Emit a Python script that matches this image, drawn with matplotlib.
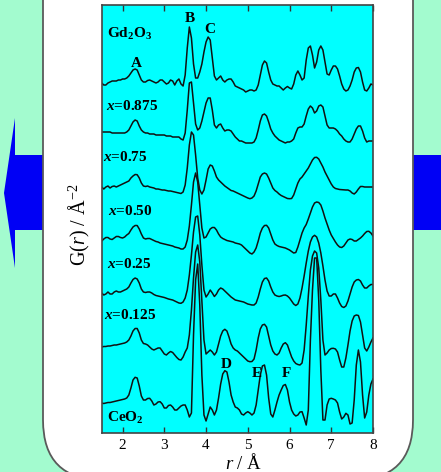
import matplotlib
matplotlib.use("Agg")
import matplotlib.pyplot as plt
import numpy as np
from matplotlib.patches import FancyBboxPatch, Polygon, Rectangle

plt.rcParams["font.family"] = ["Liberation Serif", "DejaVu Serif"]
plt.rcParams["mathtext.fontset"] = "custom"
plt.rcParams["mathtext.rm"] = "Liberation Serif"
plt.rcParams["mathtext.it"] = "Liberation Serif:italic"
plt.rcParams["mathtext.bf"] = "Liberation Serif:bold"
plt.rcParams["mathtext.sf"] = "Liberation Serif:bold:italic"

# r grid (Angstrom), 0.05 step
R = np.linspace(1.5, 8.0, 131)

# G(r), arbitrary units, one row per 0.5 A
G_GD2O3 = [
    2, 0, 0, 2, 3, 4, 4, 4, 5, 5,
    6, 6, 7, 9, 12, 15, 16, 15, 10, 5,
    3, 3, 4.5, 5, 4, 3, 2, 3, 5, 5,
    3, 1, 2, 5, 4, 0, 4, 6, 1, -1,
    10, 37, 58, 47, 21, 7, 7, 13, 21, 33,
    43, 48, 45, 27, 9, 5, 7, 9, 5, 3,
    5, 6, 6, 3, -1, -2, -3, -4, -5, -7,
    -6, -5, -5, -6, -5, 0, 10, 20, 24, 22,
    13, 5, 1, 0, -1, -1, -3, -5, -3, -1.5,
    -3, -4, 1, 10, 14, 10, 5, 7, 25, 37,
    39, 30, 17, 23, 35, 39, 35, 23, 11, 10,
    15, 19, 19, 16, 9, 1, -4, -6, -5, -1,
    5, 13, 17, 17.5, 13, 3, -5, -6, -3, 1,
    0,
]
G_0875 = [
    8, 8, 8, 8, 8, 7, 7, 7, 7, 7,
    7, 7, 8, 10, 14, 18, 20, 19, 14, 10,
    8, 7, 7, 6, 6, 6, 5, 5, 5, 5,
    5, 4, 4, 4, 3, 3, 3, 3, 1, 0,
    7, 30, 57, 58, 37, 16, 10, 12, 19, 28,
    37, 42, 42, 30, 15, 12, 15, 16, 12, 9,
    10, 10, 9, 6, 3, 1, -1, -1, -2, -3,
    -3, -3, -3, -2, 2, 10, 19, 25, 26, 24,
    18, 11, 7, 4, 2, 0, -1, -2, -3, -2,
    -2, -1, 1, 7, 12, 13, 13, 16, 24, 31,
    34, 32, 27, 29, 34, 35, 33, 24, 15, 12,
    12, 12, 11, 9, 6, 4, 1, -1, -2, -2,
    1, 6, 11, 14, 14, 9, 2, -2, -1, -1,
    -1,
]
G_075 = [
    6, 4, 6, 7, 5, 6.5, 7, 6, 7, 8,
    9, 10, 11, 12, 15, 17, 18.5, 18.3, 15, 10,
    7, 6.5, 7, 6, 5.5, 5, 4, 4, 3.5, 3,
    3, 2.5, 2, 2, 1.5, 1, 0.5, 0, -0.5, 1,
    8, 25, 48, 61, 58, 38, 15, 3, -1, 3,
    13, 24, 28, 27, 22, 16, 13, 11, 9, 7,
    5.5, 4, 2.5, 2, 1, 0, -1, -2, -3, -4,
    -5, -5.7, -5, -3, 2, 9, 16, 19, 20, 19,
    15, 10, 5, 2.5, 1, -1, -2.5, -3.5, -4.5, -5.5,
    -5.7, -5.5, -2, 4, 10, 14, 16, 19, 22, 25,
    29, 33, 35.5, 35.7, 34, 30, 26, 21, 17, 13,
    9, 6, 4.5, 4, 3.5, 3.3, 3.2, 3, 3, 2,
    0, -1, 1, 4, 6.5, 6.5, 6, 6, 6, 6,
    6,
]
G_050 = [
    4, 6, 7.5, 7.5, 6, 5.5, 7, 8.5, 8.5, 7.5,
    7, 8, 10, 11.5, 15, 18, 19.5, 19.5, 16, 11,
    7, 6, 6.5, 6.5, 5.5, 4.5, 3.5, 3, 2, 1.5,
    1, 0.5, 0, -0.5, -1, -2, -2.5, -3, -4, -4,
    -2, 5, 19, 40, 63, 72, 63, 40, 17, 7,
    8, 12, 16, 17.5, 17.5, 15, 11, 8, 6.5, 5.5,
    4.5, 4, 3.5, 3, 2, 1.5, 1, 0, -2, -4,
    -6, -8, -9, -7, -3, 4, 12, 17, 19.5, 19.7,
    17, 11, 5, 1, -0.5, -1.5, -2, -2.5, -3, -4,
    -5, -6.5, -8, -7.5, -2, 5, 12, 17, 20.5, 26,
    32, 38, 42, 43, 42.5, 40, 34, 27, 21, 15,
    10, 6.5, 3, 0, -2, -2.5, -1, 2, 5, 6,
    5.5, 4, 4, 5.5, 7, 9, 11.5, 13.5, 13.7, 12,
    9,
]
G_025 = [
    5, 3, 4, 6, 4, 4, 6, 7, 6, 6,
    7, 8, 9, 11, 15, 18.5, 20, 19, 15, 9,
    6, 5.5, 6, 6, 5, 3.5, 2.5, 2, 1.5, 1,
    0.5, -0.3, -1, -1.5, -2, -3, -4, -5, -5.3, -4,
    0, 8, 23, 43, 66, 81, 82, 63, 33, 8,
    1, 4, 8, 5, 1.5, 4, 8, 10, 9, 7,
    5, 3, 1, -0.5, -2, -2.5, -3, -3.5, -4, -5,
    -6, -6.5, -7, -7, -5, 1, 9, 16, 19.5, 20,
    17, 11, 6, 3, 2, 1.5, 2, 2.8, 3, 2,
    0, -3, -6, -7.5, -6, 0, 10, 22, 35, 47,
    56, 61, 62.7, 61, 55, 45, 32, 18, 7, 2,
    2, 4, 4, 0, -5, -8.5, -9.5, -8, -3, 4,
    11, 16, 18, 18.5, 17, 13, 10, 10, 12, 13.5,
    13.5,
]
G_0125 = [
    5, 5.5, 5.5, 6, 6, 6.5, 7, 7, 7.5, 8,
    8.5, 9, 10, 12, 16, 21, 23.5, 23.5, 19, 12,
    8.5, 8, 7, 5, 3, 2, 3, 4, 4, 1,
    -2, -3, -1, 0.5, -0.5, -3, -5.5, -7.5, -8, -5,
    0, 4, 17, 42, 74, 100, 107, 90, 52, 12,
    -2, 0, 2, 0, -3, 0, 8, 16, 21, 22.7,
    21, 15, 8, 4, 2, 1, -1, -3, -5, -7,
    -9, -9.7, -9.5, -7, 2, 14, 23, 27, 27.7, 25,
    16, 7, 1, -2, -3, -1, 4, 8, 9.3, 7,
    1, -5, -9, -11.5, -12.5, -13, -11, 2, 27, 56,
    82, 96, 101, 99, 84, 52, 12, -3, -1, 2,
    3.5, 3.7, 3, 0, -8, -15, -15, -6, 7, 21,
    31, 36, 37, 36.5, 30, 17, 4, 1, 5, 10,
    14,
]
G_CEO2 = [
    2, 1.5, 2, 2.5, 2.5, 3, 3.5, 4, 4.5, 5,
    5.5, 6, 7, 10, 17, 25, 27.7, 27, 19, 9,
    5, 5, 6.5, 6.7, 4, 0, 1, 3, 3.3, 1,
    -3, -3, -0.5, 0, -2, -5, -5, -3, -1, 0,
    0, -5, -12, -8, 70, 125, 141, 100, 30, -10,
    -16, -9, -2, -5, -10, -5, 7, 21, 31, 34.3,
    33, 23, 10, 3, -2, -3, -5, -9, -10, -8,
    -6.7, -8, -10, -8, 0, 15, 30, 39, 40, 30,
    7, -9, -12, -5, 3, 10, 15, 19.5, 20.5, 15,
    3, -5, -9, -11, -10, -7, -6.7, -13, -20, -5,
    65, 115, 147, 147, 105, 35, -15, -15, 0, 6,
    6.7, 6, 5, 2, -7, -14, -12, -8.3, -10, -19,
    -18, 5, 40, 55, 43, 10, -13, -7, 10, 21,
    26,
]

CURVES = [G_GD2O3, G_0875, G_075, G_050, G_025, G_0125, G_CEO2]
OFFSETS = [348, 293, 240, 188, 135, 81, 28]
SAMPLE_LABELS = [
    r"Gd$_\mathbf{2}$O$_\mathbf{3}$",
    r"$\mathsf{x}$=0.875",
    r"$\mathsf{x}$=0.75",
    r"$\mathsf{x}$=0.50",
    r"$\mathsf{x}$=0.25",
    r"$\mathsf{x}$=0.125",
    r"CeO$_\mathbf{2}$",
]
PEAK_LABELS = ["A", "B", "C", "D", "E", "F"]

W, H = 441, 472
fig = plt.figure(figsize=(W / 100, H / 100), dpi=100)
fig.patch.set_facecolor("#a3fbcf")

# decoration layer in pixel units
bg = fig.add_axes([0, 0, 1, 1], zorder=0)
bg.set_xlim(0, W)
bg.set_ylim(H, 0)
bg.axis("off")
bg.add_patch(Polygon([(4, 193), (15, 118), (15, 155), (60, 155), (60, 230),
                      (15, 230), (15, 268)], closed=True, color="#0000f5", lw=0))
bg.add_patch(Rectangle((400, 155), 41, 75, color="#0000f5", lw=0))
bg.add_patch(FancyBboxPatch((43, -100), 370, 580,
                            boxstyle="round,pad=0,rounding_size=60",
                            facecolor="white", edgecolor="#5a5a5a", lw=1.3))

ax = fig.add_axes([101.7 / W, 39 / H, 271.3 / W, 428 / H], zorder=1)
ax.set_facecolor("#00ffff")
for g, off in zip(CURVES, OFFSETS):
    ax.plot(R, np.asarray(g) + off, color="#111111", lw=1.1)

ax.set_xlim(1.5, 8.0)
ax.set_ylim(0, 428)
ax.set_xticks(range(2, 9))
ax.set_yticks([])
ax.tick_params(axis="x", direction="in", top=True, length=4, width=1,
               labelsize=11, pad=4, color="#333333")
for sp in ax.spines.values():
    sp.set_color("#444444")
    sp.set_linewidth(1.2)

ax.set_xlabel(r"$r$ / Å", fontsize=13.5)
ax.xaxis.set_label_coords(0.524, -0.046)
ax.set_ylabel(r"G($r$) / Å$^{-2}$", fontsize=14.5)
ax.yaxis.set_label_coords(-0.034, 0.486)

txt = dict(fontsize=11, fontweight="bold", va="baseline")
label_pos = [(1.627, 395), (1.603, 323), (1.531, 271.7), (1.651, 218),
             (1.62, 165), (1.555, 113.7), (1.634, 11)]
for lab, (x, y) in zip(SAMPLE_LABELS, label_pos):
    ax.text(x, y, lab, ha="left", **txt)

peak_pos = [(2.335, 366), (3.60, 410.7), (4.10, 399.7), (4.48, 65),
            (5.217, 55.7), (5.92, 55.7)]
for lab, (x, y) in zip(PEAK_LABELS, peak_pos):
    ax.text(x, y, lab, ha="center", **txt)

fig.savefig("out.png", dpi=100, facecolor=fig.get_facecolor())
